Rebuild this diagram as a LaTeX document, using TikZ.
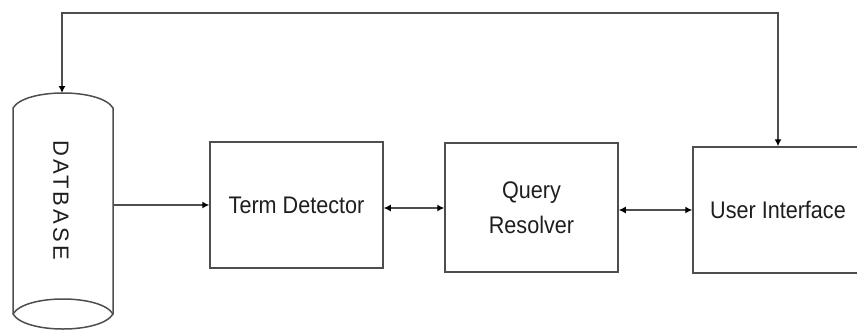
\documentclass[tikz,border=0pt]{standalone}
\usepackage{fontspec}
\setmainfont{Liberation Sans}[FakeStretch=0.9]
\newfontfamily\dbfont{Liberation Sans}[LetterSpace=14]
\usetikzlibrary{arrows.meta}
\definecolor{lineg}{HTML}{4E4E4E}
\definecolor{textg}{HTML}{1E1E1E}
\tikzset{
  blockbox/.style={draw=lineg, line width=1.5pt, minimum width=173pt, minimum height=126pt, inner sep=0pt, text=textg, font=\fontsize{24}{35}\selectfont, align=center},
  conn/.style={draw=lineg, line width=1.3pt},
  tip/.tip={Latex[length=7pt,width=7pt,color=black]},
  dbtext/.style={rotate=-90, text=textg, font=\dbfont\fontsize{22}{24}\selectfont, inner sep=0pt}
}
\begin{document}
\begin{tikzpicture}[x=1pt,y=-1pt]
\useasboundingbox (0,0) rectangle (857,333);
\clip (0,0) rectangle (857,333);
% database cylinder
\draw[conn, line width=1.5pt] (13,314) -- (13,108) .. controls (25,88) and (101,88) .. (113,108) -- (113,314);
\draw[conn, line width=1.5pt] (13,314) .. controls (25,294) and (101,294) .. (113,314) .. controls (101,334) and (25,334) .. (13,314);
\coordinate (dbtop) at (62,93);
\coordinate (dbright) at (113,205);
\node[dbtext] (db) at (61,200) {DATBASE};
% blocks
\node[blockbox] (td) at (296.5,205) {Term Detector};
\node[blockbox, minimum height=129pt] (qr) at (531.5,207.5) {Query\\Resolver};
\node[blockbox, minimum width=170pt] (ui) at (778,210) {User Interface};
\coordinate (topcorner) at (62,13);
\coordinate (tdR) at ([yshift=-3pt]td.east);
\coordinate (qrR) at ([yshift=-2.5pt]qr.east);
% connectors
\draw[conn, -tip] (dbright) -- (td.west |- dbright);
\draw[conn, tip-tip] (tdR) -- (qr.west |- tdR);
\draw[conn, tip-tip] (qrR) -- (ui.west |- qrR);
\draw[conn, tip-tip] (dbtop) -- (topcorner) -| (ui.north);
\end{tikzpicture}
\end{document}
